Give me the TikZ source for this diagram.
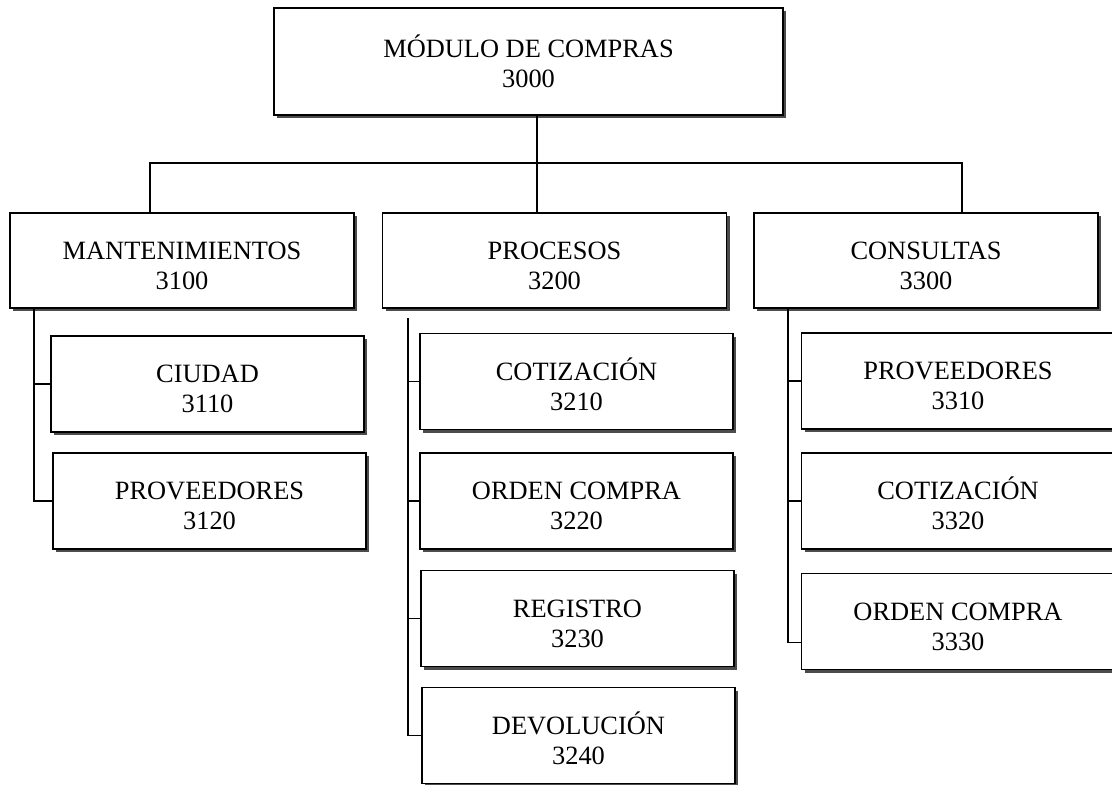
\documentclass[tikz,border=0pt]{standalone}
\usepackage{fontspec}
\setmainfont{Liberation Serif}
\usetikzlibrary{shadows}

\newcommand{\sube}{\rule{0pt}{14pt}}

\tikzset{
  caja/.style={draw=black, line width=0.9pt, fill=white, align=center, inner sep=0pt,
    font=\fontsize{13.2}{15}\selectfont,
    drop shadow={shadow xshift=1.6pt, shadow yshift=-1.6pt, fill=black!70, opacity=1}},
  nivel2/.style={caja, minimum width=172pt, minimum height=47.5pt},
  nivel3/.style={caja, minimum width=156.5pt, minimum height=48pt},
  linea/.style={draw=black, line width=0.7pt}
}

\begin{document}
\begin{tikzpicture}[x=0.5pt, y=-0.5pt]
  \useasboundingbox (0,0) rectangle (1112,784);

  \node[caja, minimum width=254.5pt, minimum height=53.5pt] (modulo) at (528.5,61.5) {MÓDULO DE COMPRAS\\3000};

  \node[nivel2] (mant) at (182,260.5) {\sube MANTENIMIENTOS\\3100};
  \node[nivel2] (proc) at (554.5,260.5) {\sube PROCESOS\\3200};
  \node[nivel2] (cons) at (926,260.5) {\sube CONSULTAS\\3300};

  \node[nivel3] (ciudad) at (207.5,384) {\sube CIUDAD\\3110};
  \node[nivel3] (provm)  at (209.5,501) {\sube PROVEEDORES\\3120};

  \node[nivel3] (cotp) at (576.5,381.5) {\sube COTIZACIÓN\\3210};
  \node[nivel3] (ordp) at (576.5,501)   {\sube ORDEN COMPRA\\3220};
  \node[nivel3] (regp) at (577.5,618.5) {\sube REGISTRO\\3230};
  \node[nivel3] (devp) at (578.5,735.5) {\sube DEVOLUCIÓN\\3240};

  \node[nivel3] (provc) at (958,381)   {\sube PROVEEDORES\\3310};
  \node[nivel3] (cotc)  at (958,501)   {\sube COTIZACIÓN\\3320};
  \node[nivel3] (ordc)  at (958,621.5) {\sube ORDEN COMPRA\\3330};

  % barra principal
  \coordinate (busL) at (150,163);
  \coordinate (busM) at (537,163);
  \coordinate (busR) at (962,163);
  \draw[linea] (modulo.south -| busM) -- (proc.north -| busM);
  \draw[linea] (busL |- mant.north) -- (busL) -- (busR) -- (busR |- cons.north);

  % mantenimientos
  \coordinate (spL) at (34,308);
  \draw[linea] (spL |- mant.south) -- (spL |- provm) -- (provm.west);
  \draw[linea] (spL |- ciudad) -- (ciudad.west);

  % procesos
  \coordinate (spM) at (408,318);
  \draw[linea] (spM) -- (spM |- devp) -- (devp.west);
  \foreach \n in {cotp,ordp,regp}
    \draw[linea] (spM |- \n) -- (\n.west);

  % consultas
  \coordinate (spR) at (788,308);
  \coordinate (finR) at ([yshift=-10.5pt]ordc.west);
  \draw[linea] (spR |- cons.south) -- (spR |- finR) -- (finR);
  \foreach \n in {provc,cotc}
    \draw[linea] (spR |- \n) -- (\n.west);
\end{tikzpicture}
\end{document}
